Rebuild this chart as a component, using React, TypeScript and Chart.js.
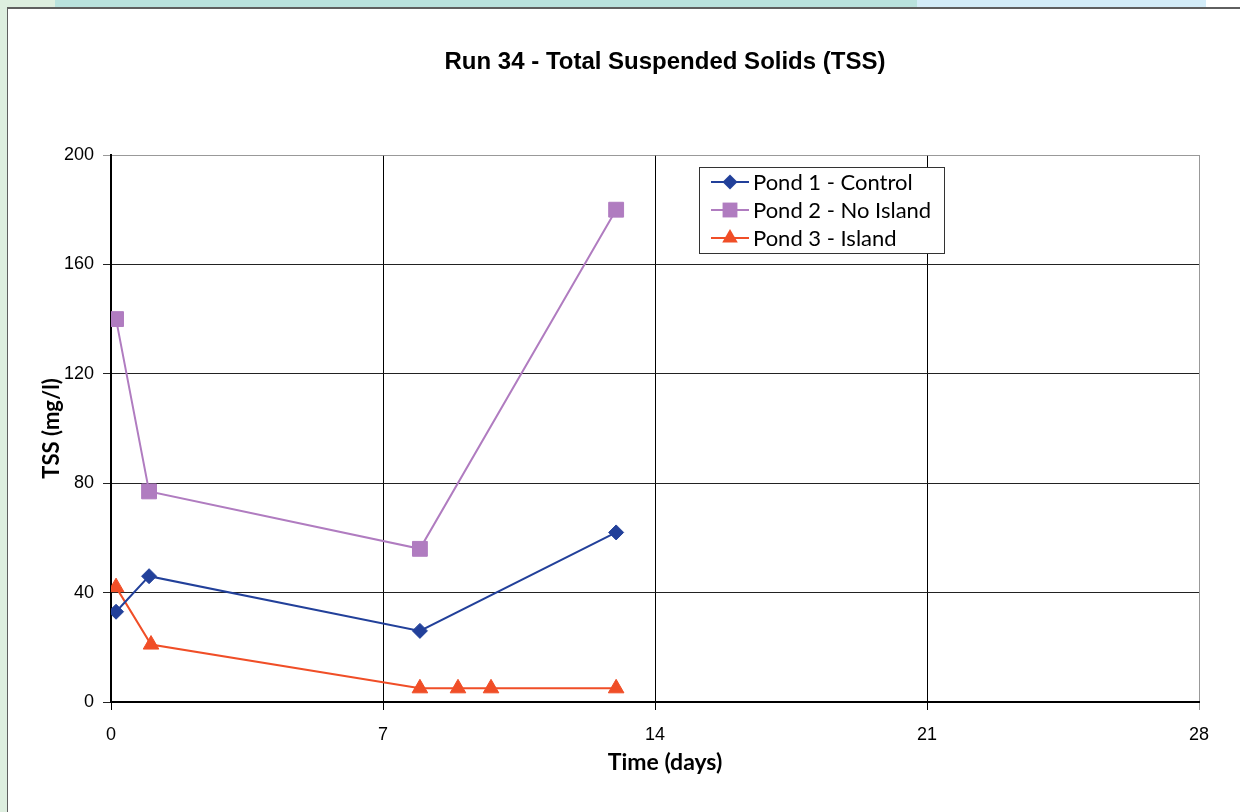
import React, { useEffect, useRef } from "react";
import { Chart, registerables } from "chart.js";

Chart.register(...registerables);

const TITLE = "Run 34 - Total Suspended Solids (TSS)";
const X_TITLE = "Time (days)";
const Y_TITLE = "TSS (mg/l)";

const SERIES_NAMES = ["Pond 1 - Control", "Pond 2 - No Island", "Pond 3 - Island"];

const pond1Days = [0.13, 0.98, 7.95, 13.0];
const pond1Tss = [33, 46, 26, 62];

const pond2Days = [0.13, 0.98, 7.95, 13.0];
const pond2Tss = [140, 77, 56, 180];

const pond3Days = [0.13, 1.03, 7.95, 8.93, 9.78, 13.0];
const pond3Tss = [42, 21, 5, 5, 5, 5];

const X_MIN = 0;
const X_MAX = 28;
const X_STEP = 7;
const Y_MIN = 0;
const Y_MAX = 200;
const Y_STEP = 40;

const COLORS = ["#22409A", "#B07CC0", "#F04E27"];
const STYLES = ["rectRot", "rect", "triangle"];
const RADII = [7.5, 10.5, 9];

const toPts = (xs: number[], ys: number[]) => xs.map((x, i) => ({ x, y: ys[i] }));

const legendPlugin = {
  id: "customLegend",
  afterDraw(chart: any) {
    const ctx = chart.ctx;
    const area = chart.chartArea;
    ctx.save();
    ctx.fillStyle = "#000";
    ctx.textAlign = "center";
    ctx.textBaseline = "middle";
    ctx.font = "bold 24px 'Liberation Sans', Arial, sans-serif";
    ctx.fillText(TITLE, 657, 53);
    ctx.font = "bold 23px Lato, 'Open Sans', sans-serif";
    ctx.fillText(X_TITLE, 657, 754);

    const bx = area.left + 588;
    const by = area.top + 12;
    const bw = 245;
    const bh = 86;
    ctx.fillStyle = "#fff";
    ctx.fillRect(bx, by, bw, bh);
    ctx.strokeStyle = "#333";
    ctx.lineWidth = 1;
    ctx.strokeRect(bx + 0.5, by + 0.5, bw, bh);
    ctx.font = "22px Lato, 'Open Sans', sans-serif";
    ctx.textAlign = "left";
    chart.data.datasets.forEach((ds: any, i: number) => {
      const cy = by + 15 + i * 28;
      ctx.strokeStyle = ds.borderColor;
      ctx.lineWidth = 2;
      ctx.beginPath();
      ctx.moveTo(bx + 12, cy);
      ctx.lineTo(bx + 50, cy);
      ctx.stroke();
      const r = ds.pointRadius;
      const style = ds.pointStyle;
      ctx.fillStyle = ds.pointBackgroundColor;
      ctx.beginPath();
      const mx = bx + 31;
      if (style === "rectRot") {
        ctx.moveTo(mx - r, cy);
        ctx.lineTo(mx, cy - r);
        ctx.lineTo(mx + r, cy);
        ctx.lineTo(mx, cy + r);
      } else if (style === "rect") {
        const s = r * Math.SQRT1_2;
        ctx.rect(mx - s, cy - s, 2 * s, 2 * s);
      } else {
        ctx.moveTo(mx, cy - r);
        ctx.lineTo(mx + r * 0.866, cy + r * 0.5);
        ctx.lineTo(mx - r * 0.866, cy + r * 0.5);
      }
      ctx.closePath();
      ctx.fill();
      ctx.fillStyle = "#000";
      ctx.fillText(ds.label, bx + 54, cy + 1);
    });
    ctx.restore();
  },
};

export default function App() {
  const ref = useRef<HTMLCanvasElement | null>(null);

  useEffect(() => {
    if (!ref.current) return;
    const series = [
      toPts(pond1Days, pond1Tss),
      toPts(pond2Days, pond2Tss),
      toPts(pond3Days, pond3Tss),
    ];
    const chart = new Chart(ref.current, {
      type: "line",
      data: {
        datasets: series.map((data, i) => ({
          label: SERIES_NAMES[i],
          data,
          borderColor: COLORS[i],
          backgroundColor: COLORS[i],
          pointBackgroundColor: COLORS[i],
          pointBorderColor: COLORS[i],
          pointBorderWidth: 1,
          pointStyle: STYLES[i],
          pointRadius: RADII[i],
          borderWidth: 2,
          tension: 0,
          fill: false,
        })),
      },
      options: {
        responsive: false,
        maintainAspectRatio: false,
        animation: false,
        layout: { padding: { top: 146, right: 41, left: 0, bottom: 0 } },
        plugins: {
          legend: { display: false },
          title: { display: false },
          tooltip: { enabled: false },
        },
        scales: {
          x: {
            type: "linear",
            min: X_MIN,
            max: X_MAX,
            afterFit: (s: any) => {
              s.height = 110;
            },
            ticks: {
              stepSize: X_STEP,
              color: "#000",
              padding: 14,
              font: { family: "'Liberation Sans', Arial, sans-serif", size: 18 },
            },
            grid: {
              color: (c: any) => (c.tick && c.tick.value === X_MAX ? "#999" : "#000"),
              lineWidth: 1,
              tickLength: 8,
            },
            border: { display: true, color: "#000", width: 2 },
          },
          y: {
            type: "linear",
            min: Y_MIN,
            max: Y_MAX,
            afterFit: (s: any) => {
              s.width = 103;
            },
            ticks: {
              stepSize: Y_STEP,
              color: "#000",
              padding: 9,
              font: { family: "'Liberation Sans', Arial, sans-serif", size: 18 },
            },
            grid: {
              color: (c: any) => (c.tick && c.tick.value === Y_MAX ? "#999" : "#222"),
              lineWidth: 1,
              tickLength: 8,
            },
            border: { display: true, color: "#000", width: 2 },
            title: {
              display: true,
              text: Y_TITLE,
              color: "#000",
              padding: 31,
              font: { family: "Lato, 'Open Sans', sans-serif", size: 22, weight: "bold" },
            },
          },
        },
      },
      plugins: [legendPlugin],
    });
    return () => chart.destroy();
  }, []);

  return (
    <div
      style={{
        position: "fixed",
        left: 0,
        top: 0,
        width: 1240,
        height: 812,
        overflow: "hidden",
        background: "#fff",
      }}
    >
      <div style={{ position: "absolute", left: 0, top: 0, width: 7, height: 812, background: "#DDEEDF" }} />
      <div style={{ position: "absolute", left: 0, top: 0, width: 55, height: 7, background: "#DDEEDF" }} />
      <div style={{ position: "absolute", left: 55, top: 0, width: 862, height: 7, background: "#B9E2DD" }} />
      <div style={{ position: "absolute", left: 917, top: 0, width: 289, height: 7, background: "#D3ECF8" }} />
      <div
        style={{
          position: "absolute",
          left: 7,
          top: 7,
          width: 1233,
          height: 805,
          background: "#fff",
          borderTop: "2px solid #5f5f5f",
          borderLeft: "1px solid #5f5f5f",
          boxSizing: "border-box",
        }}
      >
        <canvas
          ref={ref}
          width={1232}
          height={803}
          style={{ display: "block", width: 1232, height: 803 }}
        />
      </div>
    </div>
  );
}
